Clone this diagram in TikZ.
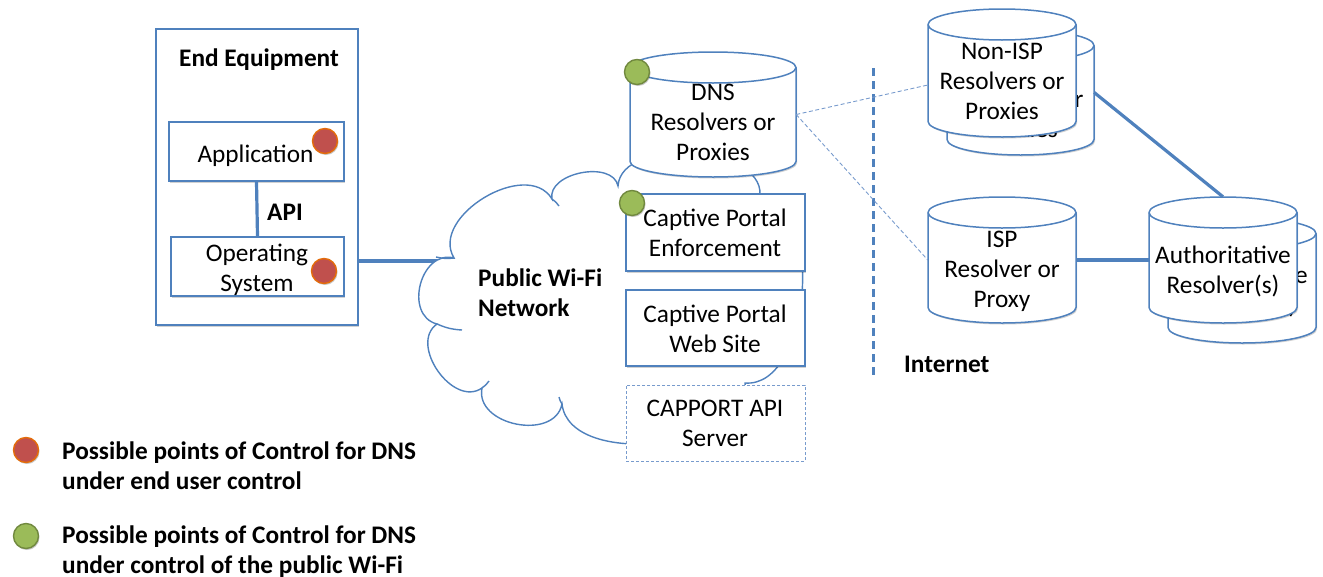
\documentclass[tikz,border=0pt]{standalone}
\usepackage{fontspec}
\setmainfont{Carlito}
\usetikzlibrary{shadows,calc}

\definecolor{edge}{RGB}{79,129,189}
\definecolor{thinedge}{RGB}{120,155,205}
\definecolor{userdot}{RGB}{192,80,77}
\definecolor{userring}{RGB}{228,108,10}
\definecolor{wifidot}{RGB}{155,187,89}
\definecolor{wifiring}{RGB}{113,137,63}

\newcommand\fsz{\fontsize{25.3}{30}\selectfont}

% cylinder: #1 name, #2 left, #3 top, #4 right, #5 bottom
\newcommand\drumshape[5]{%
  \pgfmathsetmacro\drumrx{(#4-#2)/2}%
  \pgfmathsetmacro\drumcx{(#4+#2)/2}%
  \pgfmathsetmacro\drumcy{(#5+#3)/2}%
  \pgfmathsetmacro\drumh{#5-#3}%
  \pgfmathsetmacro\drumw{#4-#2}%
  \path[drumbody] (#2,#3+15.5)
     arc[start angle=180,end angle=360,x radius=\drumrx,y radius=15.5]
     -- (#4,#5-15.5)
     arc[start angle=0,end angle=180,x radius=\drumrx,y radius=15.5]
     -- cycle;
  \draw[edge,line width=1.5pt] (#2,#3+15.5)
     arc[start angle=180,end angle=0,x radius=\drumrx,y radius=15.5];
  \node[inner sep=0,minimum width=\drumw pt,minimum height=\drumh pt] (#1) at (\drumcx,\drumcy) {};
}

\tikzset{
  x=1pt, y=-1pt,
  txt/.style={align=center, inner sep=0pt, font=\fsz, yshift=-4pt,
              execute at begin node=\strut, execute at end node=\strut},
  btxt/.style={txt, font=\fsz\bfseries},
  boxnode/.style={rectangle, draw=edge, fill=white, line width=1.5pt, inner sep=0pt,
                  drop shadow={shadow xshift=1.2pt, shadow yshift=-1.5pt, opacity=0.18, fill=black}},
  drumbody/.style={draw=edge, fill=white, line width=1.5pt,
                   drop shadow={shadow xshift=1.2pt, shadow yshift=-1.5pt, opacity=0.18, fill=black}},
  link/.style={draw=edge, line width=3.2pt},
  weaklink/.style={draw=thinedge, line width=0.9pt, dash pattern=on 4pt off 2.5pt},
  cloudline/.style={draw=edge, line width=1.4pt},
  dot/.style={circle, inner sep=0pt, minimum size=25pt, line width=1.4pt,
              drop shadow={shadow xshift=1pt, shadow yshift=-1.5pt, opacity=0.22, fill=black}},
  userpt/.style={dot, fill=userdot, draw=userring},
  wifipt/.style={dot, fill=wifidot, draw=wifiring},
  puff/.style={bend left=90, looseness=#1},
}

\begin{document}
\begin{tikzpicture}
\useasboundingbox (0,0) rectangle (1323,576);

% ---------- end equipment ----------
\node[boxnode, minimum width=202pt, minimum height=296pt] (eq) at (257,177) {};
\node[btxt] (eqlabel) at (259,56) {End Equipment};
\node[boxnode, minimum width=175pt, minimum height=59pt] (app) at (256.5,151.5) {};
\node[txt] (apptext) at (255.5,152) {Application};
\node[boxnode, minimum width=173pt, minimum height=59pt] (os) at (257.5,266.5) {};
\node[txt] (ostext) at (257,268) {Operating\\System};
\draw[link] (app.south) -- (os.north);
\node[btxt] (api) at (285,210) {API};
\node[userpt] (dotapp) at (325,141) {};
\node[userpt] (dotos) at (324,271) {};

% ---------- public wi-fi cloud ----------
\coordinate (wifi) at (610,300);
\coordinate (eqport) at ([yshift=-84pt]eq.east);
\draw[link] (eqport) -- (wifi |- eqport);
\draw[cloudline, fill=white]
  (454,258) to[puff=1.08] (552,199) to[puff=1.02] (618,186)
  to[puff=0.9] (760,195) to[puff=0.9] (745,383) to[puff=0.92] (562,404)
  to[puff=1.2] (482,388) to[puff=1.15] (437,324) to[puff=1.3] cycle;
% inner tails of the cloud outline
\draw[cloudline] (552,199) to[bend left=10] (559,206);
\draw[cloudline] (437,324) to[bend right=10] (462,330);
\draw[cloudline] (482,388) to[bend right=10] (489,381);
\draw[cloudline] (562,404) to[bend left=10] (559,397);
\draw[cloudline] (454,258) to[bend left=10] (436,257);
\node[btxt, align=left, anchor=west] (wifitext) at (478,293) {Public Wi-Fi\\Network};

% ---------- wi-fi side services ----------
\drumshape{dns}{630}{52}{796}{177}
\node[txt] (dnstext) at (713,123) {DNS\\Resolvers or\\Proxies};
\node[boxnode, minimum width=179pt, minimum height=77pt] (cpe) at (715.5,232.5) {};
\node[txt] (cpetext) at (715,233) {Captive Portal\\Enforcement};
\node[boxnode, minimum width=179pt, minimum height=76pt] (cpw) at (715.5,328) {};
\node[txt] (cpwtext) at (715,329) {Captive Portal\\Web Site};
\node[rectangle, draw=thinedge, fill=white, line width=1pt, dash pattern=on 3pt off 2pt,
      minimum width=179pt, minimum height=76pt, inner sep=0pt] (capi) at (715.5,423) {};
\node[txt] (capitext) at (715,424) {CAPPORT API\\Server};
\node[wifipt] (dotdns) at (637,72) {};
\node[wifipt] (dotcpe) at (632,203) {};

% ---------- internet boundary ----------
\coordinate (edgetop) at (873,68);
\coordinate (edgebot) at (873,375);
\draw[edge, line width=3pt, dash pattern=on 8pt off 5pt] (edgetop) -- (edgebot);
\node[btxt, anchor=west] (inet) at (904,362) {Internet};

% ---------- internet resolvers ----------
\drumshape{nonispb}{947}{30}{1094}{155}
\node[txt] (nonispbtext) at (1021,100) {Non-ISP\\Resolvers or\\Proxies};
\drumshape{nonisp}{928}{9}{1076}{137}
\node[txt] (nonisptext) at (1002,82) {Non-ISP\\Resolvers or\\Proxies};

\drumshape{isp}{928}{197}{1076}{323}
\node[txt] (isptext) at (1002,270) {ISP\\Resolver or\\Proxy};

\drumshape{authb}{1168}{218}{1316}{343}
\node[txt] (authbtext) at (1240,290) {Authoritative\\Resolver(s)};
\drumshape{auth}{1149}{197}{1297}{323}
\node[txt] (authtext) at (1223,270) {Authoritative\\Resolver(s)};

% ---------- connectors ----------
\draw[weaklink] (dns.east) -- ([yshift=-12pt]nonisp.west);
\draw[weaklink] (dns.east) -- (isp.west);
\draw[link] (nonispb.east) -- (auth.north);
\draw[link] (isp.east) -- (auth.west);

% ---------- legend ----------
\node[userpt] (keyuser) at (26,450) {};
\node[btxt, align=left, anchor=west] (keyusertext) at (62,466)
  {Possible points of Control for DNS\\under end user control};
\node[wifipt] (keywifi) at (26,536) {};
\node[btxt, align=left, anchor=west] (keywifitext) at (62,550)
  {Possible points of Control for DNS\\under control of the public Wi-Fi};
\end{tikzpicture}
\end{document}
